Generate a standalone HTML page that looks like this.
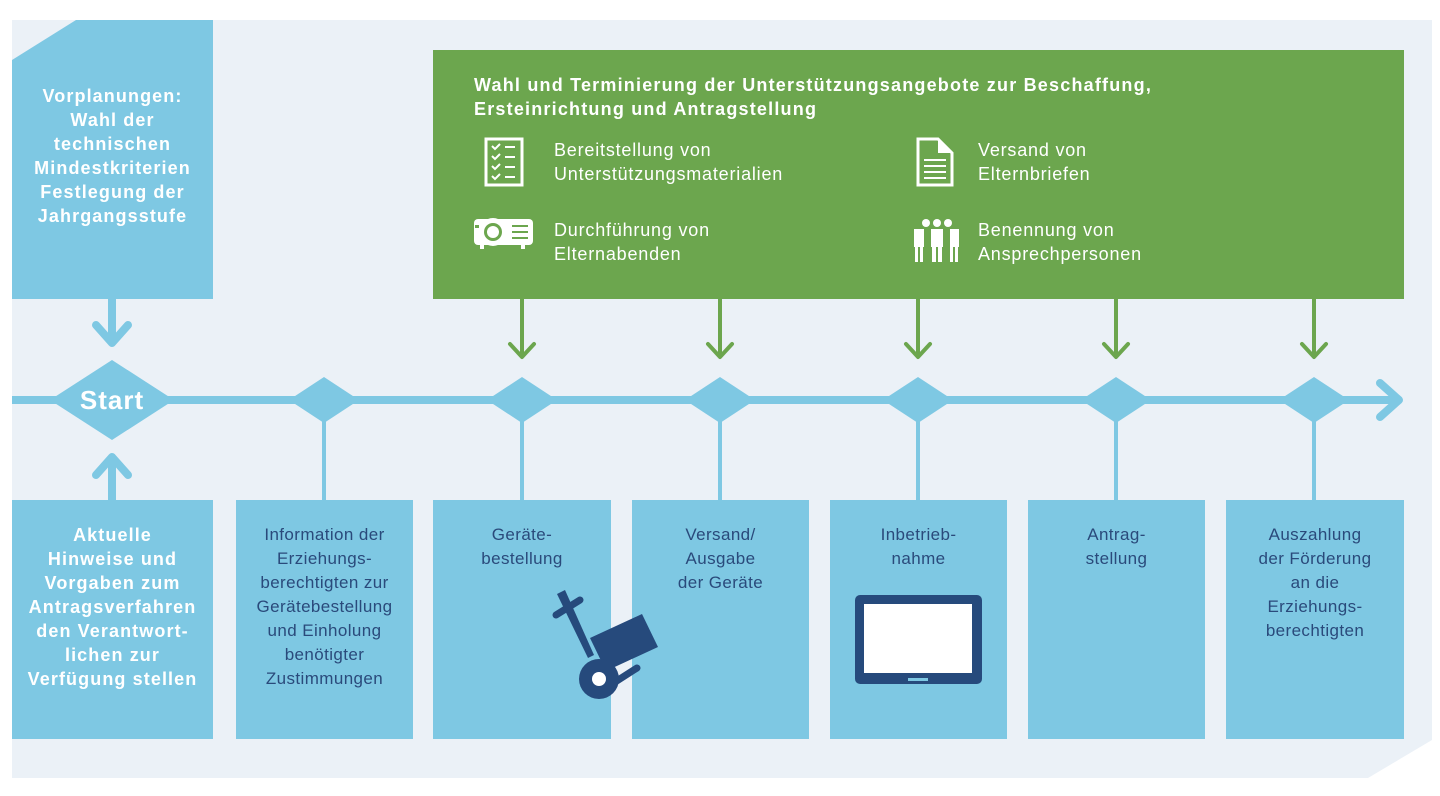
<!DOCTYPE html>
<html><head><meta charset="utf-8"><style>
html,body{margin:0;padding:0;background:#fff;}
body{width:1440px;height:796px;position:relative;overflow:hidden;font-family:"Liberation Sans",sans-serif;}
.box{position:absolute;background:#7ec8e3;color:#2a4a7b;text-align:center;font-size:17px;line-height:24px;box-sizing:border-box;padding-top:23px;letter-spacing:0.4px;}
.wb{color:#fff;font-weight:bold;font-size:18px;letter-spacing:1.1px;}
.g{position:absolute;color:#fff;font-size:18px;line-height:24px;letter-spacing:0.8px;}
svg{position:absolute;left:0;top:0;}
</style></head><body>
<svg width="1440" height="796">
<polygon points="12,20 1432,20 1432,740 1368,778 12,778" fill="#ebf1f7"/>
<rect x="433" y="50" width="971" height="249" fill="#6ca64e"/>
<line x1="12" y1="400" x2="1398" y2="400" stroke="#7ec8e3" stroke-width="8"/>
<polyline points="1380,383 1399,400 1380,417" fill="none" stroke="#7ec8e3" stroke-width="8" stroke-linecap="round" stroke-linejoin="round"/>
<polygon points="112,360 174,400 112,440 50,400" fill="#7ec8e3"/>
<g fill="#7ec8e3">
<polygon points="324,377 359,400 324,423 289,400"/>
<polygon points="522,377 557,400 522,423 487,400"/>
<polygon points="720,377 755,400 720,423 685,400"/>
<polygon points="918,377 953,400 918,423 883,400"/>
<polygon points="1116,377 1151,400 1116,423 1081,400"/>
<polygon points="1314,377 1349,400 1314,423 1279,400"/>
</g>
<g stroke="#7ec8e3" stroke-width="4">
<line x1="324" y1="420" x2="324" y2="500"/><line x1="522" y1="420" x2="522" y2="500"/>
<line x1="720" y1="420" x2="720" y2="500"/><line x1="918" y1="420" x2="918" y2="500"/>
<line x1="1116" y1="420" x2="1116" y2="500"/><line x1="1314" y1="420" x2="1314" y2="500"/>
</g>
<g stroke="#7ec8e3" stroke-width="8" fill="none" stroke-linecap="round" stroke-linejoin="round">
<line x1="112" y1="299" x2="112" y2="342"/><polyline points="96,325 112,343 128,325"/>
<line x1="112" y1="500" x2="112" y2="458"/><polyline points="96,475 112,457 128,475"/>
</g>
<g stroke="#6ca64e" stroke-width="4" fill="none" stroke-linecap="round" stroke-linejoin="round">
<line x1="522" y1="299" x2="522" y2="356"/><polyline points="510,344 522,357 534,344"/>
<line x1="720" y1="299" x2="720" y2="356"/><polyline points="708,344 720,357 732,344"/>
<line x1="918" y1="299" x2="918" y2="356"/><polyline points="906,344 918,357 930,344"/>
<line x1="1116" y1="299" x2="1116" y2="356"/><polyline points="1104,344 1116,357 1128,344"/>
<line x1="1314" y1="299" x2="1314" y2="356"/><polyline points="1302,344 1314,357 1326,344"/>
</g>
<text x="112" y="409" text-anchor="middle" fill="#fff" font-family="Liberation Sans" font-weight="bold" font-size="26" letter-spacing="1">Start</text>
</svg>
<div class="box wb" style="left:12px;top:20px;width:201px;height:279px;padding-top:64px;clip-path:polygon(64px 0,100% 0,100% 100%,0 100%,0 40px);">Vorplanungen:<br>Wahl der<br>technischen<br>Mindestkriterien<br>Festlegung der<br>Jahrgangsstufe</div>
<div class="box wb" style="left:12px;top:500px;width:201px;height:239px;">Aktuelle<br>Hinweise und<br>Vorgaben zum<br>Antragsverfahren<br>den Verantwort-<br>lichen zur<br>Verfügung stellen</div>
<div class="box" style="left:236px;top:500px;width:177px;height:239px;">Information der<br>Erziehungs-<br>berechtigten zur<br>Gerätebestellung<br>und Einholung<br>benötigter<br>Zustimmungen</div>
<div class="box" style="left:433px;top:500px;width:178px;height:239px;">Geräte-<br>bestellung</div>
<div class="box" style="left:632px;top:500px;width:177px;height:239px;">Versand/<br>Ausgabe<br>der Geräte</div>
<div class="box" style="left:830px;top:500px;width:177px;height:239px;">Inbetrieb-<br>nahme</div>
<div class="box" style="left:1028px;top:500px;width:177px;height:239px;">Antrag-<br>stellung</div>
<div class="box" style="left:1226px;top:500px;width:178px;height:239px;">Auszahlung<br>der Förderung<br>an die<br>Erziehungs-<br>berechtigten</div>
<svg width="1440" height="796" style="pointer-events:none">
<g fill="#264a7c">
<line x1="556" y1="615" x2="580" y2="600" stroke="#264a7c" stroke-width="7" stroke-linecap="round"/>
<polygon points="557,594 565,590 594,655 588,658"/>
<polygon points="590,638 642,614 658,647 606,671"/>
<line x1="612" y1="684" x2="637" y2="668" stroke="#264a7c" stroke-width="7" stroke-linecap="round"/>
<circle cx="599" cy="679" r="20"/>
<circle cx="599" cy="679" r="7" fill="#fff"/>
<rect x="855" y="595" width="127" height="89" rx="5"/>
<rect x="864" y="604" width="108" height="69" fill="#fff"/>
<rect x="908" y="678" width="20" height="3" fill="#7ec8e3"/>
</g>
<g fill="none" stroke="#fff" stroke-width="3">
<rect x="486" y="139" width="36" height="46"/>
<path d="M492,146 l3,3 l5,-5 M492,156 l3,3 l5,-5 M492,166 l3,3 l5,-5 M492,176 l3,3 l5,-5" stroke-width="2"/>
<path d="M505,147 h10 M505,157 h10 M505,167 h10 M505,177 h10" stroke-width="2"/>
<path d="M918,139 h20 l14,14 v32 h-34 z"/>
<path d="M924,160 h22 M924,166 h22 M924,172 h22 M924,178 h22" stroke-width="2"/>
</g>
<g fill="#fff">
<path d="M938,139 v14 h14 z"/>
<rect x="474" y="219" width="59" height="26" rx="4"/>
<rect x="480" y="244" width="4" height="5"/><rect x="521" y="244" width="4" height="5"/>
<circle cx="493" cy="232" r="14"/>
<circle cx="926" cy="223" r="4"/><circle cx="937" cy="223" r="4"/><circle cx="948" cy="223" r="4"/>
<rect x="914" y="229" width="10" height="18"/><rect x="931" y="229" width="12" height="18"/><rect x="950" y="229" width="9" height="18"/>
<rect x="915" y="246" width="3" height="16"/><rect x="920" y="246" width="3" height="16"/>
<rect x="932" y="246" width="4" height="16"/><rect x="938" y="246" width="4" height="16"/>
<rect x="950" y="246" width="3" height="16"/><rect x="955" y="246" width="3" height="16"/>
</g>
<circle cx="493" cy="232" r="9" fill="#6ca64e"/>
<circle cx="493" cy="232" r="6" fill="#fff"/>
<rect x="475" y="225" width="4" height="3" fill="#6ca64e"/>
<path d="M512,226 h16 M512,232 h16 M512,238 h16" stroke="#6ca64e" stroke-width="2"/>
</svg>
<div class="g" style="left:474px;top:73px;font-weight:bold;letter-spacing:1.2px;">Wahl und Terminierung der Unterstützungsangebote zur Beschaffung,<br>Ersteinrichtung und Antragstellung</div>
<div class="g" style="left:554px;top:138px;">Bereitstellung von<br>Unterstützungsmaterialien</div>
<div class="g" style="left:554px;top:218px;">Durchführung von<br>Elternabenden</div>
<div class="g" style="left:978px;top:138px;">Versand von<br>Elternbriefen</div>
<div class="g" style="left:978px;top:218px;">Benennung von<br>Ansprechpersonen</div>
</body></html>
